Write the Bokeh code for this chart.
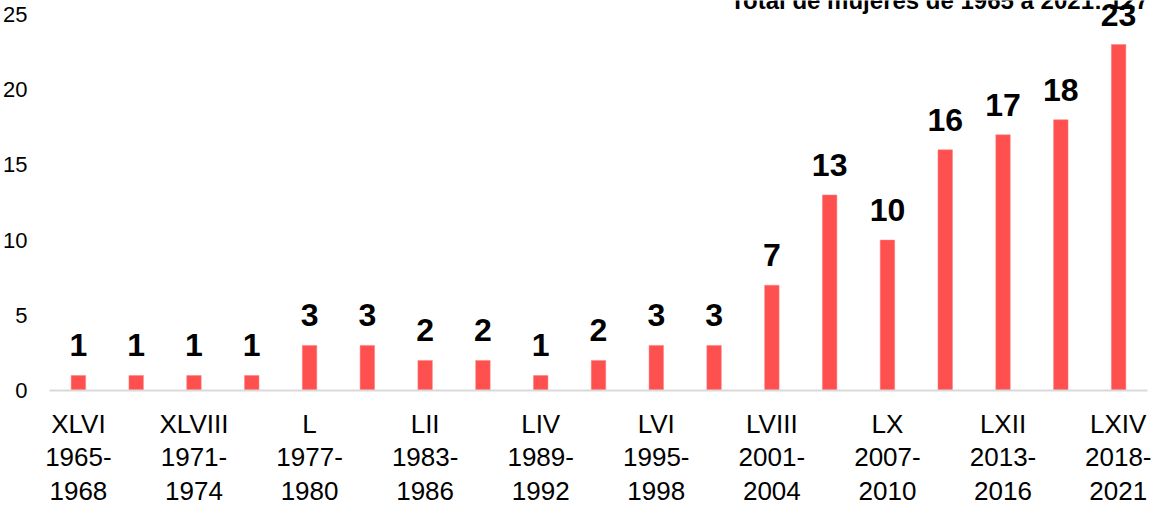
from bokeh.plotting import figure
from bokeh.models import Range1d, FixedTicker, ColumnDataSource, LabelSet
from bokeh.core.properties import value
from bokeh.embed import file_html
from bokeh.resources import INLINE

# ---- data ----
legislaturas = ["XLVI", "XLVII", "XLVIII", "XLIX", "L", "LI", "LII", "LIII", "LIV", "LV",
                "LVI", "LVII", "LVIII", "LIX", "LX", "LXI", "LXII", "LXIII", "LXIV"]
mujeres = [1, 1, 1, 1, 3, 3, 2, 2, 1, 2, 3, 3, 7, 13, 10, 16, 17, 18, 23]
periodos = {
    "XLVI": "1965-\n1968", "XLVIII": "1971-\n1974", "L": "1977-\n1980",
    "LII": "1983-\n1986", "LIV": "1989-\n1992", "LVI": "1995-\n1998",
    "LVIII": "2001-\n2004", "LX": "2007-\n2010", "LXII": "2013-\n2016",
    "LXIV": "2018-\n2021",
}
y_ticks = [0, 5, 10, 15, 20, 25]
titulo = "Total de mujeres de 1965 a 2021: " + str(sum(mujeres))

FONT = "Liberation Sans"
Y_END = 25.93

xs = list(range(len(legislaturas)))
src = ColumnDataSource(dict(x=xs, y=mujeres, lab=[str(v) for v in mujeres]))

p = figure(width=1151, height=508, output_backend="svg", toolbar_location=None,
           x_range=Range1d(-0.5, len(legislaturas) - 0.5), y_range=Range1d(0, Y_END),
           min_border_left=48, min_border_right=4, min_border_top=0, min_border_bottom=117)
p.outline_line_color = None
p.grid.grid_line_color = None
p.background_fill_color = "white"
p.border_fill_color = "white"

p.vbar(x="x", top="y", width=0.25, source=src, fill_color="#FF5050",
       line_color="#FF7A7A", line_width=0.5)

labels = LabelSet(x="x", y="y", text="lab", source=src, y_offset=19,
                  text_align="center", text_baseline="alphabetic",
                  text_font=value(FONT), text_font_size="32px", text_font_style="bold",
                  text_color="black")
p.add_layout(labels)

# title (cut by the top edge, as in the reference)
p.text(x=[14.9], y=[Y_END], text=[titulo], text_align="center",
       text_baseline="alphabetic", text_font=value(FONT), text_font_size="24px",
       text_font_style="bold", text_color="black")

# x axis
tick_idx = [i for i, l in enumerate(legislaturas) if l in periodos]
p.xaxis.ticker = FixedTicker(ticks=tick_idx)
p.xaxis.major_label_overrides = {i: legislaturas[i] + "\n" + periodos[legislaturas[i]] for i in tick_idx}
p.xaxis.axis_line_color = "#D9D9D9"
p.xaxis.axis_line_width = 2
p.xaxis.major_tick_line_color = None
p.xaxis.minor_tick_line_color = None
p.xaxis.major_tick_out = 0
p.xaxis.major_tick_in = 0
p.xaxis.major_label_standoff = 18
p.xaxis.major_label_text_font = FONT
p.xaxis.major_label_text_font_size = "26px"
p.xaxis.major_label_text_line_height = 1.12
p.xaxis.major_label_text_color = "black"

# y axis
p.yaxis.ticker = FixedTicker(ticks=y_ticks)
p.yaxis.axis_line_color = None
p.yaxis.major_tick_line_color = None
p.yaxis.minor_tick_line_color = None
p.yaxis.major_tick_out = 0
p.yaxis.major_tick_in = 0
p.yaxis.major_label_standoff = 22
p.yaxis.major_label_text_font = FONT
p.yaxis.major_label_text_font_size = "22px"
p.yaxis.major_label_text_color = "black"

open("out.html", "w").write(file_html(p, INLINE))
